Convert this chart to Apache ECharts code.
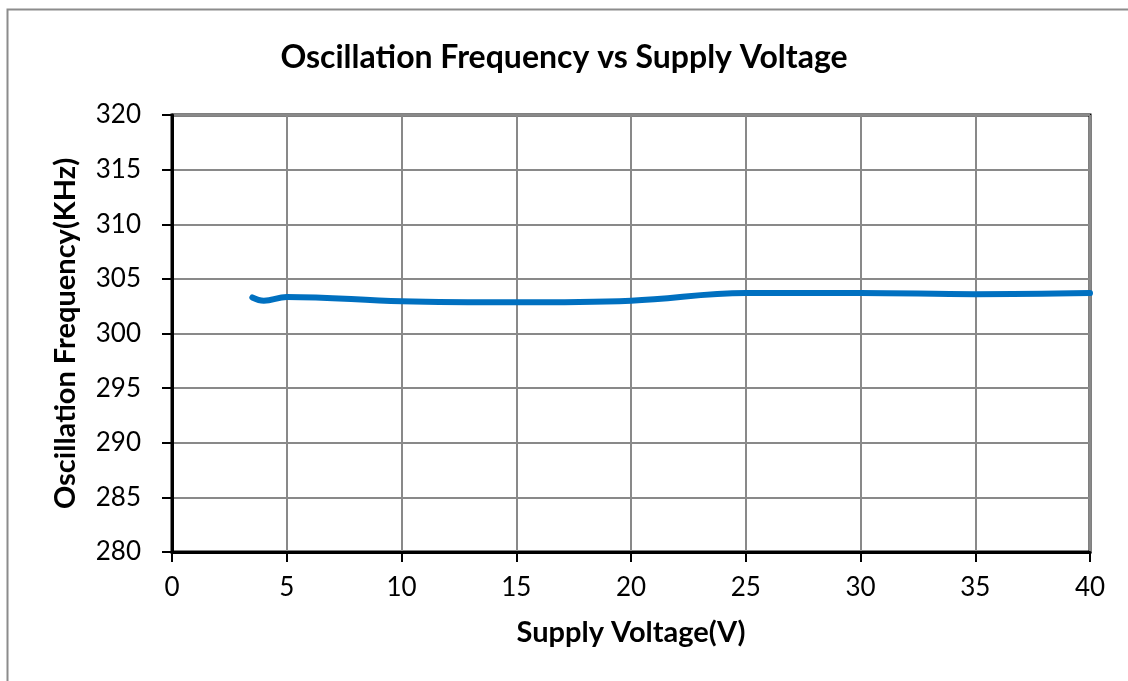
<!DOCTYPE html>
<html>
<head>
    <meta charset="utf-8">
    <script src="https://cdn.jsdelivr.net/npm/echarts@6/dist/echarts.min.js"></script>
    <title>Oscillation Frequency vs Supply Voltage</title>
    <style>
        html, body { margin: 0; padding: 0; background: #fff; }
    </style>
</head>
<body>
    <div id="main" style="width: 1128px;height:681px;"></div>
    <script type="text/javascript">
    // readings taken off the reference plot
    var voltage = [3.5, 4, 5, 10, 15, 20, 25, 30, 35, 40];
    var freq = [303.3, 303.0, 303.35, 302.95, 302.85, 303.0, 303.7, 303.7, 303.6, 303.7];

    var xTicks = [0, 5, 10, 15, 20, 25, 30, 35, 40];
    var yTicks = [280, 285, 290, 295, 300, 305, 310, 315, 320];

    var points = [];
    for (var i = 0; i < voltage.length; i++) {
        points.push([voltage[i], freq[i]]);
    }

    var font = 'Lato, "Open Sans", sans-serif';
    var myChart = echarts.init(document.getElementById('main'));

    var option = {
        animation: false,
        backgroundColor: '#fff',
        title: {
            text: 'Oscillation Frequency vs Supply Voltage',
            left: 'center',
            top: 37,
            textStyle: { fontFamily: font, fontSize: 32, fontWeight: 'bold', color: '#000' }
        },
        graphic: [{
            type: 'rect',
            shape: { x: 7.5, y: 9.5, width: 1140, height: 700 },
            style: { fill: 'none', stroke: '#8c8c8c', lineWidth: 2 },
            silent: true
        }],
        grid: { left: 172, right: 38, top: 115, bottom: 129, show: true, borderColor: '#000', borderWidth: 3 },
        xAxis: {
            type: 'value',
            min: xTicks[0],
            max: xTicks[xTicks.length - 1],
            interval: 5,
            name: 'Supply Voltage(V)',
            nameLocation: 'middle',
            nameGap: 66,
            nameTextStyle: { fontFamily: font, fontSize: 29, fontWeight: 'bold', color: '#000' },
            axisLine: { show: true, lineStyle: { color: '#000', width: 3 } },
            axisTick: { show: true, inside: false, length: 10, lineStyle: { color: '#000', width: 2 } },
            axisLabel: { margin: 23, fontFamily: font, fontSize: 26, color: '#000' },
            splitLine: { show: true, lineStyle: { color: '#898989', width: 2 } }
        },
        yAxis: {
            type: 'value',
            min: yTicks[0],
            max: yTicks[yTicks.length - 1],
            interval: 5,
            name: 'Oscillation Frequency(KHz)',
            nameLocation: 'middle',
            nameGap: 92,
            nameTextStyle: { fontFamily: font, fontSize: 29, fontWeight: 'bold', color: '#000' },
            axisLine: { show: true, lineStyle: { color: '#000', width: 3 } },
            axisTick: { show: true, inside: false, length: 10, lineStyle: { color: '#000', width: 2 } },
            axisLabel: { margin: 31, fontFamily: font, fontSize: 26, color: '#000' },
            splitLine: { show: true, lineStyle: { color: '#898989', width: 2 } }
        },
        series: [{
            type: 'line',
            data: points,
            smooth: 0.4,
            showSymbol: false,
            lineStyle: { color: '#0070C0', width: 6, cap: 'round' }
        }]
    };
    myChart.setOption(option);
    </script>
</body>
</html>
